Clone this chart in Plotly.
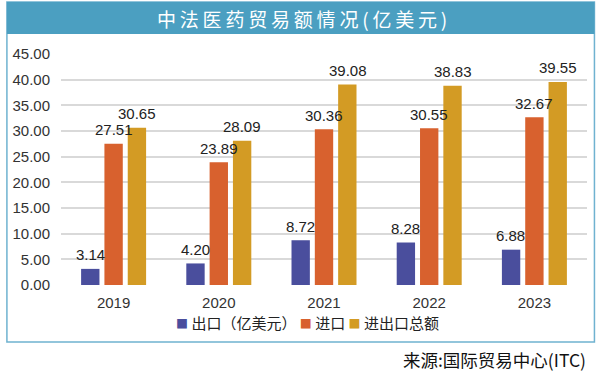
import plotly.graph_objects as go

years = ["2019", "2020", "2021", "2022", "2023"]
exports = [3.14, 4.20, 8.72, 8.28, 6.88]
imports = [27.51, 23.89, 30.36, 30.55, 32.67]
totals = [30.65, 28.09, 39.08, 38.83, 39.55]
series_names = ["出口（亿美元）", "进口", "进出口总额"]
colors = ["#4a4e9d", "#d8612e", "#d39b24"]
y_ticks = [0, 5, 10, 15, 20, 25, 30, 35, 40, 45]

W, H = 600, 372
L, R = 57.5, 587.5
T, B = 54, 285

def px_x(p):
    return (p - L) / (R - L)

def px_y(p):
    return (B - p) / (B - T)

fig = go.Figure()
all_series = [exports, imports, totals]
for name, vals, col in zip(series_names, all_series, colors):
    fig.add_trace(go.Bar(
        x=years, y=vals, name=name, marker_color=col, marker_line_width=0,
        cliponaxis=False, showlegend=False,
    ))

# value labels above each bar (group slot offset in pixels)
slot_px = 23.5
for i, vals in enumerate(all_series):
    for j, v in enumerate(vals):
        fig.add_annotation(x=j, y=v, xref="x", yref="y", text=f"{v:.2f}",
                           showarrow=False, xshift=(i - 1) * slot_px, yshift=14,
                           xanchor="center", yanchor="middle",
                           font=dict(family="Liberation Sans", size=15, color="#222222"))

ff = "Liberation Sans"
fig.update_layout(
    width=W, height=H,
    margin=dict(l=L, r=W - R, t=T, b=H - B),
    paper_bgcolor="white", plot_bgcolor="white",
    barmode="group", bargap=0.335, bargroupgap=0.213,
    font=dict(family=ff, size=15, color="#333333"),
    xaxis=dict(type="category", categoryorder="array", categoryarray=years,
               range=[-0.5, len(years) - 0.5],
               showgrid=False, showline=False, zeroline=False, ticks="",
               tickfont=dict(size=15, color="#333333"), ticklabelstandoff=7),
    yaxis=dict(range=[0, 45], tickvals=y_ticks, tickformat=".2f",
               showgrid=True, gridcolor="#d9d9d9", gridwidth=1.5,
               zeroline=False, showline=False, ticks="",
               tickfont=dict(size=15, color="#333333"), ticklabelstandoff=10),
)

# frame and title bar
fig.add_shape(type="rect", xref="paper", yref="paper",
              x0=px_x(3), x1=px_x(595), y0=px_y(342), y1=px_y(2),
              line=dict(color="#6fb2d0", width=1.5), fillcolor="rgba(0,0,0,0)", layer="below")
fig.add_shape(type="rect", xref="paper", yref="paper",
              x0=px_x(3), x1=px_x(595), y0=px_y(34), y1=px_y(2),
              line=dict(width=0), fillcolor="#4b9fc1", layer="below")

title = "中法医药贸易额情况(亿美元)"
fig.add_annotation(text="\u2009".join(title), xref="paper", yref="paper",
                   x=px_x(300), y=px_y(19), xanchor="center", yanchor="middle",
                   showarrow=False,
                   font=dict(family="Noto Sans CJK SC", size=19, color="white"))

sq = '<span style="color:{c};font-size:12px">■</span>'
legend_text = (sq.format(c=colors[0]) + " " + series_names[0] + " "
               + sq.format(c=colors[1]) + " " + series_names[1] + " "
               + sq.format(c=colors[2]) + " " + series_names[2])
fig.add_annotation(text=legend_text, xref="paper", yref="paper",
                   x=px_x(306), y=px_y(322), xanchor="center", yanchor="middle",
                   showarrow=False,
                   font=dict(family="Noto Sans CJK SC", size=15, color="#222222"))

fig.add_annotation(text="来源:国际贸易中心(ITC)", xref="paper", yref="paper",
                   x=px_x(589), y=px_y(359), xanchor="right", yanchor="middle",
                   showarrow=False,
                   font=dict(family="Noto Sans CJK SC", size=17.5, color="#111111"))

fig.write_html("out.html", config={"displayModeBar": False},
               post_script="document.body.style.margin='0';document.body.style.overflow='hidden';")
